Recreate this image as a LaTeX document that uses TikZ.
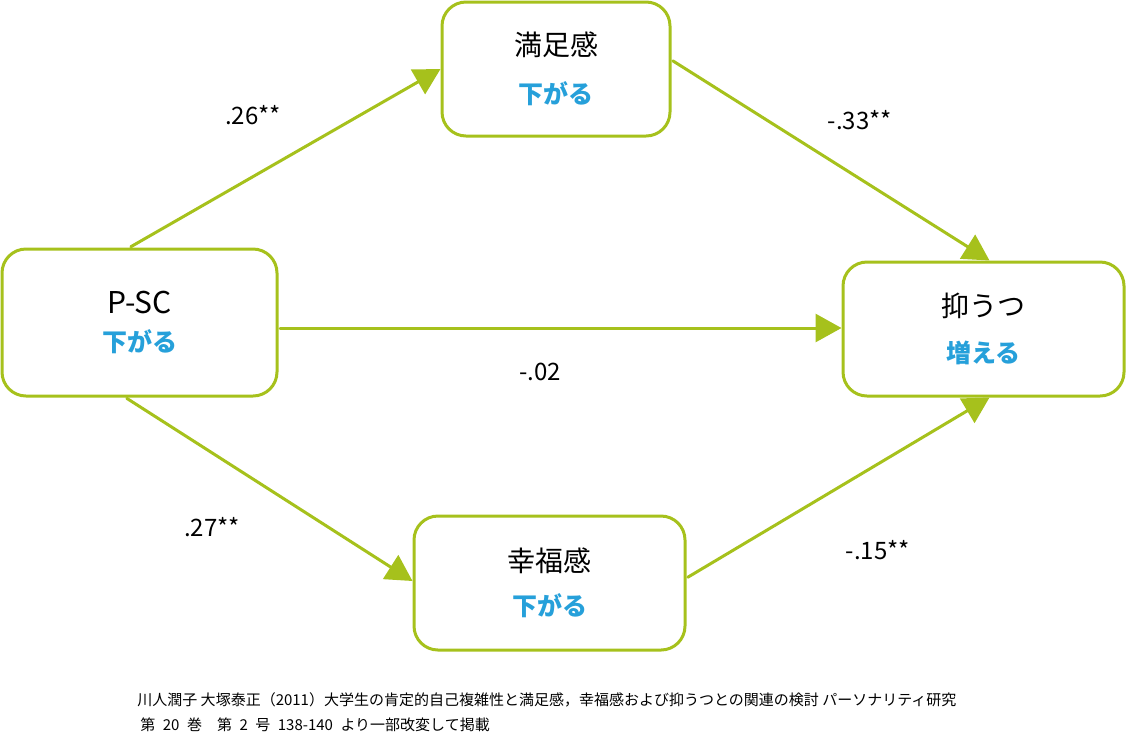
\documentclass[tikz,border=0pt]{standalone}
\usepackage{fontspec}
\setmainfont{Noto Sans CJK JP}
\usetikzlibrary{arrows.meta}
\definecolor{leaf}{RGB}{166,193,28}
\definecolor{sky}{RGB}{38,160,218}
\newcommand{\boxnote}[1]{{\fontsize{12.5}{14}\selectfont\bfseries\color{sky}#1}}

\begin{document}
\begin{tikzpicture}[x=0.5pt,y=-0.5pt,>={Triangle[length=13pt,width=14pt]},line cap=round,
  box/.style={draw=leaf,line width=1.5pt,rounded corners=12pt,fill=white,align=center,
    inner sep=0pt,font=\fontsize{14}{17}\selectfont},
  link/.style={->,draw=leaf,line width=1.5pt,shorten <=0.75pt},
  coef/.style={font=\fontsize{12}{14}\selectfont}]
\useasboundingbox (0,0) rectangle (1127,735);
% boxes
\node[box,minimum width=114pt,minimum height=67pt] (man) at (556,69) {満足感\\[7pt]\boxnote{下がる}};
\node[box,minimum width=137.5pt,minimum height=73.5pt,font=\fontsize{15}{17}\selectfont] (psc) at (139.5,322.5) {P-SC\\[2pt]\boxnote{下がる}};
\node[box,minimum width=140.5pt,minimum height=67pt] (dep) at (983.5,329) {抑うつ\\[6pt]\boxnote{増える}};
\node[box,minimum width=135.5pt,minimum height=67pt] (kof) at (549.5,583) {幸福感\\[5pt]\boxnote{下がる}};
% paths
\draw[link] ([xshift=-5pt]psc.north) -- (man.west);
\draw[link] ([yshift=4.5pt]man.east) -- ([xshift=3pt]dep.north);
\draw[link] (psc.east |- 0,328) -- (dep.west |- 0,328);
\draw[link] ([xshift=-7pt]psc.south) -- ([yshift=1pt]kof.west);
\draw[link] ([yshift=2.5pt]kof.east) -- ([xshift=3pt]dep.south);
% coefficients
\node[coef] (c1) at (253,115) {.26**};
\node[coef] (c2) at (860,120) {-.33**};
\node[coef] (c3) at (540,372) {-.02};
\node[coef] (c4) at (212,527) {.27**};
\node[coef] (c5) at (878,550) {-.15**};
% source
\node[anchor=west,align=left,inner sep=0pt,font=\fontsize{7.5}{12.5}\selectfont] (src) at (137,712)
  {川人潤子 大塚泰正（2011）大学生の肯定的自己複雑性と満足感，幸福感および抑うつとの関連の検討 パーソナリティ研究\\
   \hspace{1.5pt}第\enspace{}20\enspace{}巻　第\enspace{}2\enspace{}号\enspace{}138-140\enspace{}より一部改変して掲載};
\end{tikzpicture}
\end{document}
